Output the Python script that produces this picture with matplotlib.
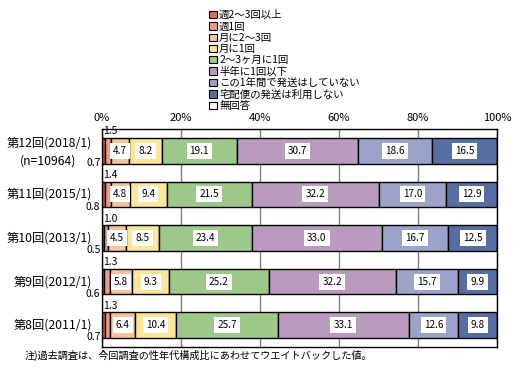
import matplotlib
matplotlib.use("Agg")
import matplotlib.pyplot as plt
import matplotlib.transforms as mtransforms
from matplotlib.patches import Patch

plt.rcParams['font.family'] = ['Noto Sans CJK JP', 'DejaVu Sans']

# Données (%)
kaisu = ['第12回(2018/1)', '第11回(2015/1)', '第10回(2013/1)',
         '第9回(2012/1)', '第8回(2011/1)']
n_label = '(n=10964)'
kategori = ['週2～3回以上', '週1回', '月に2～3回', '月に1回', '2～3ヶ月に1回',
            '半年に1回以下', 'この1年間で発送はしていない',
            '宅配便の発送は利用しない', '無回答']
shu2_3 = [0.7, 0.8, 0.5, 0.6, 0.7]
shu1 = [1.5, 1.4, 1.0, 1.3, 1.3]
tsuki2_3 = [4.7, 4.8, 4.5, 5.8, 6.4]
tsuki1 = [8.2, 9.4, 8.5, 9.3, 10.4]
kagetsu2_3 = [19.1, 21.5, 23.4, 25.2, 25.7]
hantoshi = [30.7, 32.2, 33.0, 32.2, 33.1]
ichinen_nashi = [18.6, 17.0, 16.7, 15.7, 12.6]
riyou_shinai = [16.5, 12.9, 12.5, 9.9, 9.8]
mukaitou = [0.0, 0.0, 0.0, 0.0, 0.0]
xticks = [0, 20, 40, 60, 80, 100]
chuu = '注)過去調査は、今回調査の性年代構成比にあわせてウエイトバックした値。'

series = [shu2_3, shu1, tsuki2_3, tsuki1, kagetsu2_3, hantoshi,
          ichinen_nashi, riyou_shinai, mukaitou]
couleurs = ['#E26A5A', '#EE9A86', '#F8C49C', '#FDE699', '#9DC88A',
            '#B99CBD', '#9BA3C8', '#566FA3', '#FFFFFF']

fig = plt.figure(figsize=(5.19, 3.68), dpi=100)
ax = fig.add_axes([102 / 519, 1 - 347 / 368, 395 / 519, 218 / 368])

ypos = list(range(len(kaisu)))
gauche = [0.0] * len(kaisu)
for k, (vals, c) in enumerate(zip(series, couleurs)):
    ax.barh(ypos, vals, left=gauche, height=0.59, color=c,
            edgecolor='black', linewidth=1, zorder=3)
    if 2 <= k <= 7:
        for i, v in enumerate(vals):
            ax.text(gauche[i] + v / 2, ypos[i], f"{v:.1f}", ha='center',
                    va='center', fontsize=7.2, zorder=5,
                    bbox=dict(boxstyle='square,pad=0.3', fc='white', ec='none'))
    gauche = [g + v for g, v in zip(gauche, vals)]

# petites valeurs hors barre + libellés des enquêtes
trans = mtransforms.blended_transform_factory(ax.transAxes, ax.transData)
for i in ypos:
    ax.text(0.003, i - 0.33, f"{shu1[i]:.1f}", transform=trans,
            ha='left', va='bottom', fontsize=7.5, zorder=5)
    ax.text(-0.004, i + 0.28, f"{shu2_3[i]:.1f}", transform=trans,
            ha='right', va='center', fontsize=7.5, clip_on=False)
    if i == 0:
        ax.text(-0.025, i - 0.18, kaisu[i], transform=trans,
                ha='right', va='center', fontsize=8.8)
        ax.text(-0.065, i + 0.24, n_label, transform=trans,
                ha='right', va='center', fontsize=8.8)
    else:
        ax.text(-0.025, i, kaisu[i], transform=trans,
                ha='right', va='center', fontsize=8.8)

ax.set_xlim(0, 100)
ax.set_ylim(4.5, -0.5)
ax.set_yticks([])
ax.xaxis.tick_top()
ax.set_xticks(xticks)
ax.set_xticklabels([f"{t}%" for t in xticks], fontsize=8)
ax.tick_params(axis='x', length=0, pad=4)
ax.xaxis.grid(True, color='#808080', linewidth=1, zorder=0)
ax.set_axisbelow(True)
for s in ax.spines.values():
    s.set_linewidth(1)
    s.set_zorder(6)

poignees = [Patch(facecolor=c, edgecolor='black', linewidth=0.8)
            for c in couleurs]
fig.legend(poignees, kategori, loc='upper left',
           bbox_to_anchor=(204 / 519, 1 - 5 / 368), frameon=False,
           fontsize=7.5, handlelength=0.7, handleheight=0.7,
           handletextpad=0.25, labelspacing=0.12, borderpad=0)

fig.text(25 / 519, 1 - 355 / 368, chuu, fontsize=7.3, va='center', ha='left')

fig.savefig('out.png', dpi=100, facecolor='white')
